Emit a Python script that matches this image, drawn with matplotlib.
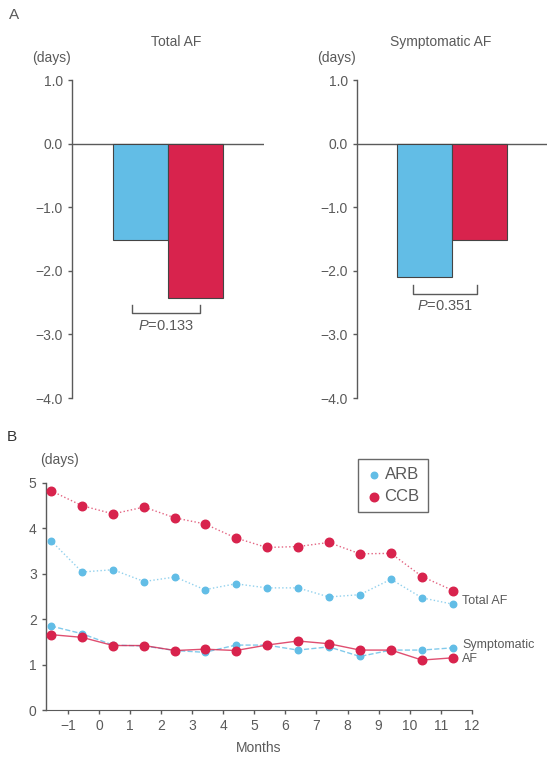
import matplotlib
matplotlib.use("Agg")
import matplotlib.pyplot as plt

plt.rcParams['font.family'] = ['Liberation Sans', 'DejaVu Sans']
plt.rcParams['mathtext.fontset'] = 'custom'
plt.rcParams['mathtext.it'] = 'Liberation Sans:italic'
plt.rcParams['mathtext.rm'] = 'Liberation Sans'

BLUE = '#62bde6'
RED = '#d8234d'
GRAY = '#5a5a5a'

# panel A: change in AF days
groups = ['ARB', 'CCB']
total_change = [-1.52, -2.42]
sympt_change = [-2.10, -1.52]
p_total = '$P$=0.133'
p_sympt = '$P$=0.351'

# panel B: AF days per month
months = [-1.55, -0.55, 0.45, 1.45, 2.45, 3.4, 4.4, 5.4, 6.4, 7.4, 8.4, 9.4, 10.4, 11.4]
arb_total = [3.73, 3.04, 3.09, 2.83, 2.93, 2.65, 2.78, 2.69, 2.69, 2.49, 2.54, 2.88, 2.47, 2.33]
ccb_total = [4.83, 4.50, 4.32, 4.47, 4.23, 4.10, 3.79, 3.58, 3.60, 3.69, 3.44, 3.45, 2.94, 2.63]
arb_sympt = [1.85, 1.68, 1.43, 1.41, 1.31, 1.27, 1.43, 1.43, 1.32, 1.39, 1.18, 1.32, 1.32, 1.37]
ccb_sympt = [1.66, 1.60, 1.42, 1.42, 1.31, 1.34, 1.31, 1.43, 1.52, 1.46, 1.32, 1.32, 1.10, 1.15]

W, H = 547, 764
fig = plt.figure(figsize=(W / 100, H / 100), dpi=100)


def style(ax):
    for s in ['top', 'right', 'bottom']:
        ax.spines[s].set_visible(False)
    ax.spines['left'].set_color(GRAY)
    ax.spines['left'].set_linewidth(1.0)
    ax.tick_params(colors=GRAY, labelcolor=GRAY, labelsize=10, length=3, width=1)


def bar_panel(rect, vals, title, ptext, bx, by, title_x):
    ax = fig.add_axes(rect)
    ax.bar([0, 1], vals, width=1.0, color=[BLUE, RED], edgecolor='#444444', linewidth=0.8)
    ax.axhline(0, color=GRAY, lw=1.0, zorder=0)
    ax.set_xlim(-1.24, 2.24)
    ax.set_ylim(-4, 1)
    ax.set_xticks([])
    ax.set_yticks([1, 0, -1, -2, -3, -4])
    ax.set_yticklabels(['1.0', '0.0', '\u22121.0', '\u22122.0', '\u22123.0', '\u22124.0'])
    style(ax)
    ax.plot([bx[0], bx[0], bx[1], bx[1]], [by + 0.14, by, by, by + 0.14], color=GRAY, lw=1.0)
    ax.text(sum(bx) / 2, by - 0.2, ptext, ha='center', va='center', fontsize=10.5, color=GRAY)
    ax.text(title_x, 1.6, title, ha='center', va='center', fontsize=10, color=GRAY)
    ax.text(-1.62, 1.35, '(days)', ha='center', va='center', fontsize=10, color=GRAY)
    return ax


bar_panel([72 / W, 1 - 398 / H, 192 / W, 318 / H], total_change, 'Total AF', p_total,
          (-0.15, 1.08), -2.67, 0.65)
bar_panel([357 / W, 1 - 398 / H, 190 / W, 318 / H], sympt_change, 'Symptomatic AF', p_sympt,
          (-0.21, 0.96), -2.36, 0.3)

fig.text(14 / W, 1 - 15 / H, 'A', fontsize=11, color=GRAY, ha='center', va='center')
fig.text(12 / W, 1 - 437 / H, 'B', fontsize=11, color='#333333', ha='center', va='center')

# panel B
ax = fig.add_axes([45.7 / W, 1 - 710 / H, 426 / W, 227 / H])
ax.plot(months, ccb_total, ls=':', color=RED, lw=1.0, alpha=0.7)
ax.plot(months, arb_total, ls=':', color=BLUE, lw=1.0, alpha=0.7)
ax.plot(months, arb_sympt, ls='--', color=BLUE, lw=1.0, alpha=0.8)
ax.plot(months, ccb_sympt, ls='-', color=RED, lw=1.0, alpha=0.8)
ax.scatter(months, arb_total, s=22, color=BLUE, zorder=3, label='ARB')
ax.scatter(months, ccb_total, s=38, color=RED, zorder=3, label='CCB')
ax.scatter(months, arb_sympt, s=22, color=BLUE, zorder=3)
ax.scatter(months, ccb_sympt, s=38, color=RED, zorder=3)
ax.set_xlim(-1.72, 12)
ax.set_ylim(0, 5)
ax.set_xticks(range(-1, 13))
ax.set_xticklabels(['\u22121'] + [str(i) for i in range(0, 13)])
ax.set_yticks(range(0, 6))
style(ax)
ax.spines['bottom'].set_visible(True)
ax.spines['bottom'].set_color(GRAY)
ax.set_xlabel('Months', fontsize=10, color=GRAY, labelpad=6)
ax.text(-1.9, 5.5, '(days)', fontsize=10, color=GRAY, ha='left', va='center')
ax.text(11.7, 2.40, 'Total AF', fontsize=9, color=GRAY, ha='left', va='center')
ax.text(11.7, 1.56, 'Symptomatic\nAF', fontsize=9, color=GRAY, ha='left', va='top',
        linespacing=1.15, clip_on=False)
leg = ax.legend(loc='upper left', bbox_to_anchor=(0.733, 1.106), frameon=True, fontsize=12,
                handletextpad=0.2, borderpad=0.5, labelspacing=0.4, handlelength=0.9,
                fancybox=False, borderaxespad=0)
leg.get_frame().set_edgecolor('#444444')
for t in leg.get_texts():
    t.set_color(GRAY)

fig.savefig('out.png', dpi=100)
